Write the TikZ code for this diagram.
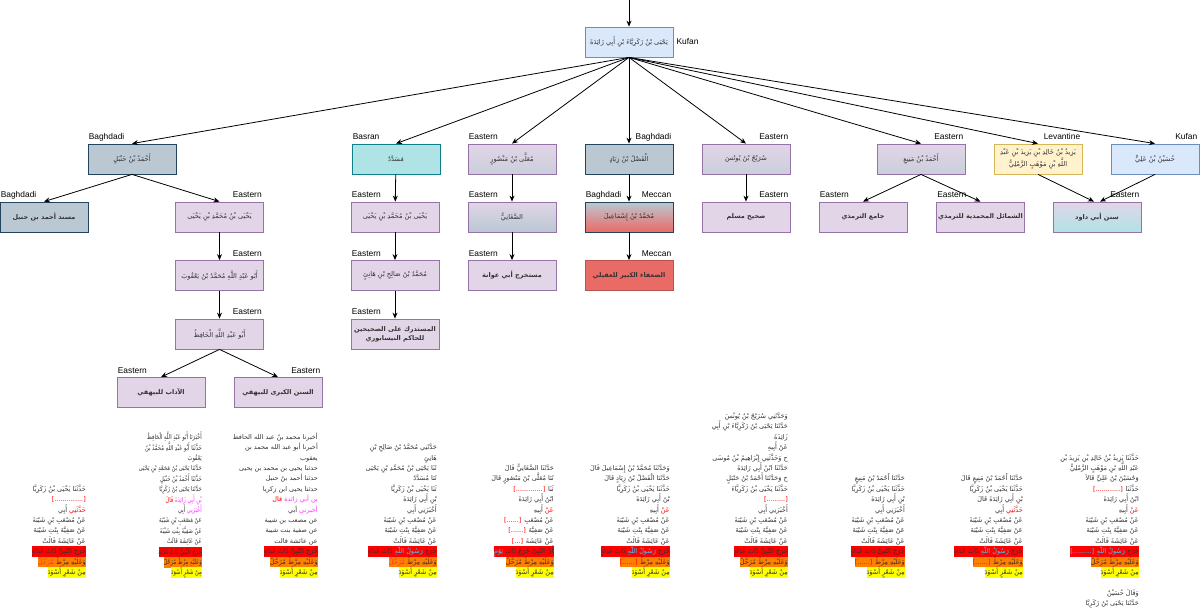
\documentclass[tikz,border=0pt]{standalone}
\usepackage{fontspec}
\setmainfont{Liberation Sans}
\newfontfamily\arabicfont[Script=Arabic]{DejaVu Sans}
\newfontfamily\arabicnarrow[Script=Arabic,FakeStretch=0.8]{DejaVu Sans}
\TeXXeTstate=1
\usetikzlibrary{arrows.meta}
\setlength{\fboxsep}{0pt}
\newcommand{\AR}[1]{\mbox{\beginR #1\endR}}
\newcommand{\RS}{\rule[-3pt]{0pt}{10.4pt}}
\newcommand{\HL}[2]{\colorbox{#1}{\RS #2}}
\newcommand{\blkfont}{\arabicfont\fontsize{6.5}{10.4}\selectfont\setlength{\lineskiplimit}{-20pt}}
\newcommand{\blknarrow}{\arabicnarrow\fontsize{6.5}{10.4}\selectfont\setlength{\lineskiplimit}{-20pt}}
\definecolor{purF}{HTML}{E1D5E7}
\definecolor{purD}{HTML}{9673A6}
\definecolor{stF}{HTML}{BAC8D3}
\definecolor{stD}{HTML}{23445D}
\definecolor{cyF}{HTML}{B0E3E6}
\definecolor{cyD}{HTML}{0E8088}
\definecolor{blF}{HTML}{DAE8FC}
\definecolor{blD}{HTML}{6C8EBF}
\definecolor{yeF}{HTML}{FFF2CC}
\definecolor{yeD}{HTML}{D6B656}
\definecolor{reF}{HTML}{EA6B66}
\definecolor{reD}{HTML}{B85450}
\definecolor{hR}{HTML}{FF0000}
\definecolor{hO}{HTML}{FF8000}
\definecolor{hY}{HTML}{FFFF00}
\definecolor{tRed}{HTML}{FF0000}
\definecolor{tRedL}{HTML}{FF3333}
\definecolor{tPink}{HTML}{FF33FF}
\definecolor{tCyan}{HTML}{33CCFF}
\definecolor{txt}{HTML}{333333}
\newcommand{\LL}[2]{\node[lab,anchor=base west] (#1-l) at ([xshift=1pt,yshift=4pt]#1.north west) {#2};}
\newcommand{\LR}[2]{\node[lab,anchor=base east] (#1-r) at ([xshift=-2pt,yshift=4pt]#1.north east) {#2};}
\begin{document}
\begin{tikzpicture}[x=1pt,y=-1pt,
  box/.style={draw, line width=0.8pt, minimum width=88pt, minimum height=30pt, inner sep=1pt, align=center, text=txt, font=\arabicfont\fontsize{6.6}{9}\selectfont},
  pur/.style={box, draw=purD, fill=purF},
  purst/.style={box, draw=purD, top color=purF, bottom color=purF!45!stF},
  purst2/.style={box, draw=purD, top color=purF, bottom color=stF},
  purcy/.style={box, draw=purD, top color=purF, bottom color=cyF},
  st/.style={box, draw=stD, fill=stF},
  cy/.style={box, draw=cyD, fill=cyF},
  bl/.style={box, draw=blD, fill=blF},
  ye/.style={box, draw=yeD, fill=yeF},
  rel/.style={box, draw=stD, top color=stF, bottom color=reF},
  re/.style={box, draw=reD, fill=reF},
  bld/.style={font=\arabicfont\bfseries\fontsize{6.5}{9}\selectfont},
  lab/.style={font=\fontsize{8.4}{10}\selectfont, inner sep=0pt, text=black},
  conn/.style={-{Stealth[length=6pt,width=5pt]}, line width=0.8pt, draw=black},
  blk/.style={inner sep=0pt, align=right, anchor=north east, text=txt, font=\blkfont}]
\fill[white] (0,0) rectangle (1200,613);
\useasboundingbox (0,0) rectangle (1200,613);
\coordinate (start) at (629,0);
% boxes
\node[bl] (top) at (629,42) {\AR{يَحْيَى بْنُ زَكَرِيَّاءَ بْنِ أَبِي زَائِدَةَ}};
\node[lab,anchor=west] (top-r) at ([xshift=3pt]top.east) {Kufan};
\node[st] (ahmad) at (132,159) {\AR{أَحْمَدُ بْنُ حَنْبَلٍ}};
\node[cy] (musaddad) at (396,159) {\AR{مُسَدَّدٌ}};
\node[purst] (mualla) at (512,159) {\AR{مُعَلَّى بْنُ مَنْصُورٍ}};
\node[st] (fadl) at (629,159) {\AR{الْفَضْلُ بْنُ زِيَادٍ}};
\node[purst] (surayj) at (746,159) {\AR{سُرَيْجُ بْنُ يُونُسَ}};
\node[purst] (mani) at (921,159) {\AR{أَحْمَدُ بْنُ مَنِيعٍ}};
\node[ye] (yazid) at (1038,159) {\AR{يَزِيدُ بْنُ خَالِدِ بْنِ يَزِيدَ بْنِ عَبْدِ}\\\AR{اللَّهِ بْنِ مَوْهَبٍ الرَّمْلِيُّ}};
\node[bl] (husayn) at (1155,159) {\AR{حُسَيْنُ بْنُ عَلِيٍّ}};
\node[st,bld] (musnad) at (44,217) {\AR{مسند أحمد بن حنبل}};
\node[pur] (yahyaL) at (219.5,217) {\AR{يَحْيَى بْنُ مُحَمَّدِ بْنِ يَحْيَى}};
\node[pur] (yahyaM) at (395,217) {\AR{يَحْيَى بْنُ مُحَمَّدِ بْنِ يَحْيَى}};
\node[purst2] (saghani) at (512,217) {\AR{الصَّغَانِيُّ}};
\node[rel] (isma) at (629,217) {\AR{مُحَمَّدُ بْنُ إِسْمَاعِيلَ}};
\node[pur,bld] (muslim) at (746,217) {\AR{صحيح مسلم}};
\node[pur,bld] (jami) at (863,217) {\AR{جامع الترمذي}};
\node[pur,bld] (shamail) at (980.5,217) {\AR{الشمائل المحمدية للترمذي}};
\node[purcy,bld] (dawud) at (1097,217) {\AR{سنن أبي داود}};
\node[pur] (yaqub) at (219.5,275.5) {\AR{أَبُو عَبْدِ اللَّهِ مُحَمَّدُ بْنُ يَعْقُوبَ}};
\node[pur] (salih) at (395,275.5) {\AR{مُحَمَّدُ بْنُ صَالِحِ بْنِ هَانِئٍ}};
\node[pur,bld] (awana) at (512,275.5) {\AR{مستخرج أبي عوانة}};
\node[re,bld] (uqayli) at (629,275.5) {\AR{الضعفاء الكبير للعقيلي}};
\node[pur] (hafiz) at (219.5,334) {\AR{أَبُو عَبْدِ اللَّهِ الْحَافِظُ}};
\node[pur,bld] (mustadrak) at (395,334) {\AR{المستدرك على الصحيحين}\\\AR{للحاكم النيسابوري}};
\node[pur,bld] (adab) at (161,392.5) {\AR{الآداب للبيهقي}};
\node[pur,bld] (kubra) at (278,392.5) {\AR{السنن الكبرى للبيهقي}};
% labels
\LL{ahmad}{Baghdadi}
\LL{musaddad}{Basran}
\LL{mualla}{Eastern}
\LR{fadl}{Baghdadi}
\LR{surayj}{Eastern}
\LR{mani}{Eastern}
\LR{yazid}{Levantine}
\LR{husayn}{Kufan}
\LL{musnad}{Baghdadi}
\LR{yahyaL}{Eastern}
\LL{yahyaM}{Eastern}
\LL{saghani}{Eastern}
\LL{isma}{Baghdadi}
\LR{isma}{Meccan}
\LR{muslim}{Eastern}
\LL{jami}{Eastern}
\LL{shamail}{Eastern}
\LR{dawud}{Eastern}
\LR{yaqub}{Eastern}
\LL{salih}{Eastern}
\LL{awana}{Eastern}
\LR{uqayli}{Meccan}
\LR{hafiz}{Eastern}
\LL{mustadrak}{Eastern}
\LL{adab}{Eastern}
\LR{kubra}{Eastern}
% connectors
\draw[conn] (start) -- (top);
\foreach \n in {ahmad,musaddad,mualla,fadl,surayj,mani,yazid,husayn}
  \draw[conn] (top.south) -- (\n.north);
\draw[conn] (ahmad.south) -- (musnad.north);
\draw[conn] (ahmad.south) -- (yahyaL.north);
\draw[conn] (yahyaL) -- (yaqub);
\draw[conn] (yaqub) -- (hafiz);
\draw[conn] (hafiz.south) -- (adab.north);
\draw[conn] (hafiz.south) -- (kubra.north);
\draw[conn] (musaddad) -- (yahyaM);
\draw[conn] (yahyaM) -- (salih);
\draw[conn] (salih) -- (mustadrak);
\draw[conn] (mualla) -- (saghani);
\draw[conn] (saghani) -- (awana);
\draw[conn] (fadl) -- (isma);
\draw[conn] (isma) -- (uqayli);
\draw[conn] (surayj) -- (muslim);
\draw[conn] (mani.south) -- (jami.north);
\draw[conn] (mani.south) -- (shamail.north);
\draw[conn] (yazid.south) -- ([xshift=-3pt]dawud.north);
\draw[conn] (husayn.south) -- ([xshift=3pt]dawud.north);
% text blocks
\node[blk] (b1) at (86,483.6) {%
\RS\AR{حَدَّثَنَا يَحْيَى بْنُ زَكَرِيَّا}\\
\RS\textcolor{tRed}{[..............]}\\
\RS\AR{أَبِي} \textcolor{tRed}{\AR{حَدَّثَنِي}}\\
\RS\AR{عَنْ مُصْعَبِ بْنِ شَيْبَةَ}\\
\RS\AR{عَنْ صَفِيَّةَ بِنْتِ شَيْبَةَ}\\
\RS\AR{عَنْ عَائِشَةَ قَالَتْ}\\
\HL{hR}{\AR{خَرَجَ النَّبِيُّ ذَاتَ غَدَاةٍ}}\\
\HL{hO}{\textcolor{tRedL}{\AR{مُرَجَّلٌ}} \AR{وَعَلَيْهِ مِرْطٌ}}\\
\HL{hY}{\AR{مِنْ شَعْرٍ أَسْوَدَ}}};
\node[blk,font=\blknarrow] (b2) at (202,431.6) {%
\RS\AR{أَخْبَرَنَا أَبُو عَبْدِ اللَّهِ الْحَافِظُ}\\
\RS\AR{حَدَّثَنَا أَبُو عَبْدِ اللَّهِ مُحَمَّدُ بْنُ}\\
\RS\AR{يَعْقُوبَ}\\
\RS\AR{حَدَّثَنَا يَحْيَى بْنُ مُحَمَّدِ بْنِ يَحْيَى}\\
\RS\AR{حَدَّثَنَا أَحْمَدُ بْنُ حَنْبَلٍ}\\
\RS\AR{حَدَّثَنَا يَحْيَى بْنُ زَكَرِيَّا}\\
\RS\textcolor{tRed}{\AR{قَالَ}} \textcolor{tPink}{\AR{بْنِ أَبِي زَائِدَةَ}}\\
\RS\AR{أَبِي} \textcolor{tPink}{\AR{أَخْبَرَنِي}}\\
\RS\AR{عَنْ مُصْعَبِ بْنِ شَيْبَةَ}\\
\RS\AR{عَنْ صَفِيَّةَ بِنْتِ شَيْبَةَ}\\
\RS\AR{عَنْ عَائِشَةَ قَالَتْ}\\
\HL{hR}{\AR{خَرَجَ النَّبِيُّ ذَاتَ غَدَاةٍ}}\\
\HL{hO}{\AR{وَعَلَيْهِ مِرْطٌ مُرَحَّلٌ}}\\
\HL{hY}{\AR{مِنْ شَعْرٍ أَسْوَدَ}}};
\node[blk] (b3) at (318,431.6) {%
\RS\AR{أخبرنا محمد بنُ عبد الله الحافظ}\\
\RS\AR{أخبرنا أبو عبد الله محمد بن}\\
\RS\AR{يعقوب}\\
\RS\AR{حدثنا يحيى بن محمد بن يحيى}\\
\RS\AR{حدثنا أحمد بنُ حنبل}\\
\RS\AR{حدثنا يحيى ابن زكريا}\\
\RS\textcolor{tRed}{\AR{قال}} \textcolor{tPink}{\AR{بن أبي زائدة}}\\
\RS\AR{أبي} \textcolor{tPink}{\AR{أخبرني}}\\
\RS\AR{عن مصعب بن شيبة}\\
\RS\AR{عن صفية بنت شيبة}\\
\RS\AR{عن عائشة قالت}\\
\HL{hR}{\AR{خَرَجَ النَّبِيُّ ذَاتَ غَدَاةٍ}}\\
\HL{hO}{\AR{وَعَلَيْهِ مِرْطٌ مُرَحَّلٌ}}\\
\HL{hY}{\AR{مِنْ شَعْرٍ أَسْوَدَ}}};
\node[blk] (b4) at (437,442) {%
\RS\AR{حَدَّثَنِي مُحَمَّدُ بْنُ صَالِحِ بْنِ}\\
\RS\AR{هَانِئٍ}\\
\RS\AR{ثَنَا يَحْيَى بْنُ مُحَمَّدِ بْنِ يَحْيَى}\\
\RS\AR{ثَنَا مُسَدَّدٌ}\\
\RS\AR{ثَنَا يَحْيَى بْنُ زَكَرِيَّا}\\
\RS\AR{بْنِ أَبِي زَائِدَةَ}\\
\RS\AR{أَخْبَرَنِي أَبِي}\\
\RS\AR{عَنْ مُصْعَبِ بْنِ شَيْبَةَ}\\
\RS\AR{عَنْ صَفِيَّةَ بِنْتِ شَيْبَةَ}\\
\RS\AR{عَنْ عَائِشَةَ قَالَتْ}\\
\HL{hR}{\AR{ذَاتَ غَدَاةٍ} \textcolor{tCyan}{\AR{رَسُولُ اللَّهِ}} \AR{خَرَجَ}}\\
\HL{hO}{\textcolor{tRedL}{\AR{مُرَجَّلٌ}} \AR{وَعَلَيْهِ مِرْطٌ}}\\
\HL{hY}{\AR{مِنْ شَعْرٍ أَسْوَدَ}}};
\node[blk] (b5) at (554,462.8) {%
\RS\AR{حَدَّثَنَا الصَّغَانِيُّ قَالَ}\\
\RS\AR{ثَنَا مُعَلَّى بْنُ مَنْصُورٍ قَالَ}\\
\RS\textcolor{tRed}{[.............]} \AR{ثَنَا}\\
\RS\AR{ابْنُ أَبِي زَائِدَةَ}\\
\RS\AR{أَبِيهِ} \textcolor{tRed}{\AR{عَنْ}}\\
\RS\textcolor{tRed}{[......]} \AR{عَنْ مُصْعَبِ}\\
\RS\textcolor{tRed}{[......]} \AR{عَنْ صَفِيَّةَ}\\
\RS\textcolor{tRed}{[...]} \AR{عَنْ عَائِشَةَ}\\
\HL{hR}{\textcolor{tCyan}{\AR{يَوْمٍ}} \AR{أَنَّ النَّبِيَّ خَرَجَ ذَاتَ}}\\
\HL{hO}{\AR{وَعَلَيْهِ مِرْطٌ مُرَحَّلٌ}}\\
\HL{hY}{\AR{مِنْ شَعْرٍ أَسْوَدَ}}};
\node[blk] (b6) at (670,462.8) {%
\RS\AR{وَحَدَّثَنَا مُحَمَّدُ بْنُ إِسْمَاعِيلَ قَالَ}\\
\RS\AR{حَدَّثَنَا الْفَضْلُ بْنُ زِيَادٍ قَالَ}\\
\RS\AR{حَدَّثَنَا يَحْيَى بْنُ زَكَرِيَّا}\\
\RS\AR{بْنُ أَبِي زَائِدَةَ}\\
\RS\AR{أَبِيهِ} \textcolor{tRed}{\AR{عَنْ}}\\
\RS\AR{عَنْ مُصْعَبِ بْنِ شَيْبَةَ}\\
\RS\AR{عَنْ صَفِيَّةَ بِنْتِ شَيْبَةَ}\\
\RS\AR{عَنْ عَائِشَةَ قَالَتْ}\\
\HL{hR}{\AR{ذَاتَ غَدَاةٍ} \textcolor{tCyan}{\AR{رَسُولُ اللَّهِ}} \AR{خَرَجَ}}\\
\HL{hO}{\textcolor{tRed}{[......]} \AR{وَعَلَيْهِ مِرْطٌ}}\\
\HL{hY}{\AR{مِنْ شَعْرٍ أَسْوَدَ}}};
\node[blk] (b7) at (788,410.8) {%
\RS\AR{وَحَدَّثَنِي سُرَيْجُ بْنُ يُونُسَ}\\
\RS\AR{حَدَّثَنَا يَحْيَى بْنُ زَكَرِيَّاءَ بْنِ أَبِي}\\
\RS\AR{زَائِدَةَ}\\
\RS\AR{عَنْ أَبِيهِ}\\
\RS\AR{ح وَحَدَّثَنِي إِبْرَاهِيمُ بْنُ مُوسَى}\\
\RS\AR{حَدَّثَنَا ابْنُ أَبِي زَائِدَةَ}\\
\RS\AR{ح وَحَدَّثَنَا أَحْمَدُ بْنُ حَنْبَلٍ}\\
\RS\AR{حَدَّثَنَا يَحْيَى بْنُ زَكَرِيَّاءَ}\\
\RS\textcolor{tRed}{[.........]}\\
\RS\AR{أَخْبَرَنِي أَبِي}\\
\RS\AR{عَنْ مُصْعَبِ بْنِ شَيْبَةَ}\\
\RS\AR{عَنْ صَفِيَّةَ بِنْتِ شَيْبَةَ}\\
\RS\AR{عَنْ عَائِشَةَ قَالَتْ}\\
\HL{hR}{\AR{خَرَجَ النَّبِيُّ ذَاتَ غَدَاةٍ}}\\
\HL{hO}{\AR{وَعَلَيْهِ مِرْطٌ مُرَحَّلٌ}}\\
\HL{hY}{\AR{مِنْ شَعْرٍ أَسْوَدَ}}};
\node[blk] (b8) at (905,473.2) {%
\RS\AR{حَدَّثَنَا أَحْمَدُ بْنُ مَنِيعٍ}\\
\RS\AR{حَدَّثَنَا يَحْيَى بْنُ زَكَرِيَّا}\\
\RS\AR{بْنِ أَبِي زَائِدَةَ}\\
\RS\AR{أَخْبَرَنِي أَبِي}\\
\RS\AR{عَنْ مُصْعَبِ بْنِ شَيْبَةَ}\\
\RS\AR{عَنْ صَفِيَّةَ بِنْتِ شَيْبَةَ}\\
\RS\AR{عَنْ عَائِشَةَ قَالَتْ}\\
\HL{hR}{\AR{خَرَجَ النَّبِيُّ ذَاتَ غَدَاةٍ}}\\
\HL{hO}{\textcolor{tRed}{[......]} \AR{وَعَلَيْهِ مِرْطٌ}}\\
\HL{hY}{\AR{مِنْ شَعْرٍ أَسْوَدَ}}};
\node[blk] (b9) at (1023,473.2) {%
\RS\AR{حَدَّثَنَا أَحْمَدُ بْنُ مَنِيعٍ قَالَ}\\
\RS\AR{حَدَّثَنَا يَحْيَى بْنُ زَكَرِيَّا}\\
\RS\AR{بْنِ أَبِي زَائِدَةَ قَالَ}\\
\RS\AR{أَبِي} \textcolor{tRed}{\AR{حَدَّثَنِي}}\\
\RS\AR{عَنْ مُصْعَبِ بْنِ شَيْبَةَ}\\
\RS\AR{عَنْ صَفِيَّةَ بِنْتِ شَيْبَةَ}\\
\RS\AR{عَنْ عَائِشَةَ قَالَتْ}\\
\HL{hR}{\AR{ذَاتَ غَدَاةٍ} \textcolor{tCyan}{\AR{رَسُولُ اللَّهِ}} \AR{خَرَجَ}}\\
\HL{hO}{\textcolor{tRed}{[......]} \AR{وَعَلَيْهِ مِرْطٌ}}\\
\HL{hY}{\AR{مِنْ شَعْرٍ أَسْوَدَ}}};
\node[blk] (b10) at (1139,452.4) {%
\RS\AR{حَدَّثَنَا يَزِيدُ بْنُ خَالِدِ بْنِ يَزِيدَ بْنِ}\\
\RS\AR{عَبْدِ اللَّهِ بْنِ مَوْهَبٍ الرَّمْلِيُّ}\\
\RS\AR{وَحُسَيْنُ بْنُ عَلِيٍّ قَالاَ}\\
\RS\textcolor{tRed}{[............]} \AR{حَدَّثَنَا}\\
\RS\AR{ابْنُ أَبِي زَائِدَةَ}\\
\RS\AR{أَبِيهِ} \textcolor{tRed}{\AR{عَنْ}}\\
\RS\AR{عَنْ مُصْعَبِ بْنِ شَيْبَةَ}\\
\RS\AR{عَنْ صَفِيَّةَ بِنْتِ شَيْبَةَ}\\
\RS\AR{عَنْ عَائِشَةَ قَالَتْ}\\
\HL{hR}{\textcolor{tCyan}{[.........]} \textcolor{tCyan}{\AR{رَسُولُ اللَّهِ}} \AR{خَرَجَ}}\\
\HL{hO}{\AR{وَعَلَيْهِ مِرْطٌ مُرَحَّلٌ}}\\
\HL{hY}{\AR{مِنْ شَعْرٍ أَسْوَدَ}}\\
\RS\\
\RS\AR{وَقَالَ حُسَيْنٌ}\\
\RS\AR{حَدَّثَنَا يَحْيَى بْنُ زَكَرِيَّا}};
\end{tikzpicture}
\end{document}
